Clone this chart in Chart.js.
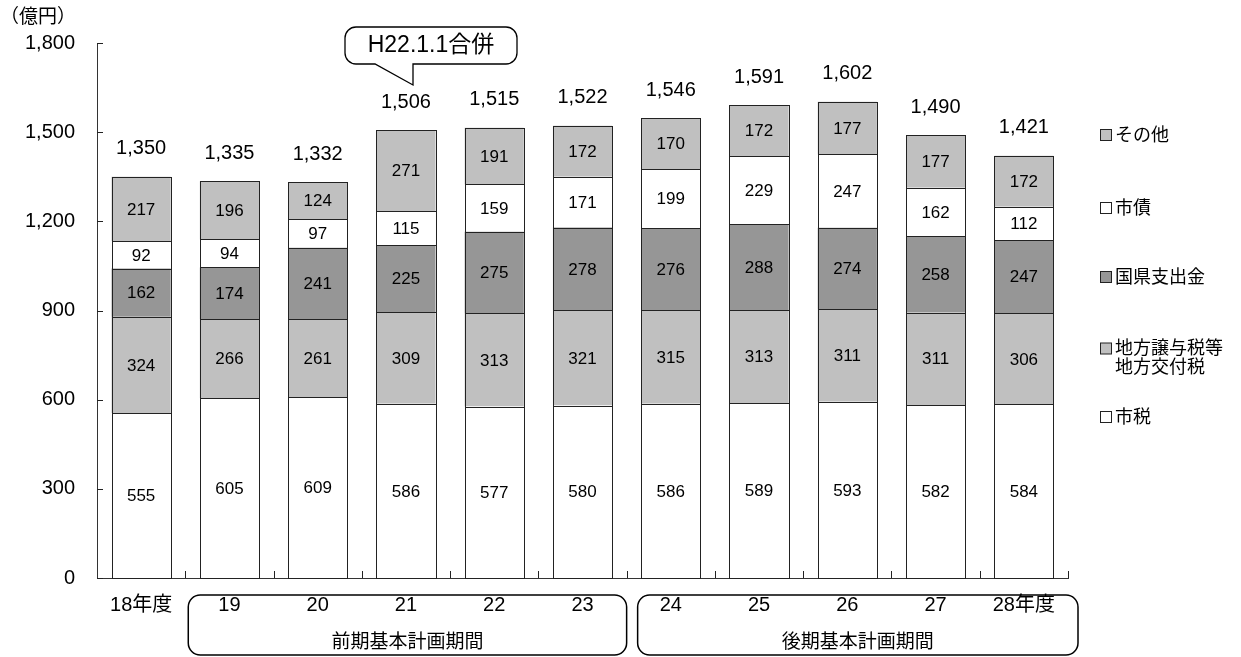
<!DOCTYPE html>
<html><head><meta charset="utf-8">
<script src="https://cdn.jsdelivr.net/npm/chart.js@4"></script>
<style>html,body{margin:0;padding:0;background:#fff}#wrap{width:1241px;height:657px;position:relative}</style>
</head><body><div id="wrap"><canvas id="c" width="1241" height="657"></canvas></div>
<script>
const categories=['18年度','19','20','21','22','23','24','25','26','27','28年度'];
const shizei=[555,605,609,586,577,580,586,589,593,582,584];
const chihouJouyo=[324,266,261,309,313,321,315,313,311,311,306];
const kokken=[162,174,241,225,275,278,276,288,274,258,247];
const shisai=[92,94,97,115,159,171,199,229,247,162,112];
const sonota=[217,196,124,271,191,172,170,172,177,177,172];
const totals=[1350,1335,1332,1506,1515,1522,1546,1591,1602,1490,1421];
const yTicks=[0,300,600,900,1200,1500,1800];
const periods=['前期基本計画期間','後期基本計画期間'];
const unitLabel='（億円）';
const calloutText='H22.1.1合併';
const seriesNames=['市税','地方譲与税等\n地方交付税','国県支出金','市債','その他'];

const FONT='"Liberation Sans","Noto Sans CJK JP",sans-serif';
const LIGHT='#c0c0c0', DARK='#969696', WHITE='#ffffff';
const colors=[WHITE,LIGHT,DARK,WHITE,LIGHT];
const seriesData=[shizei,chihouJouyo,kokken,shisai,sonota];

const datasets=seriesData.map((d,i)=>({
  label:seriesNames[i], data:d, backgroundColor:colors[i],
  borderWidth:0, barPercentage:0.67, categoryPercentage:1.0, stack:'s'
}));

const fmt=v=>v.toLocaleString('en-US');

const extras={
  id:'extras',
  afterDatasetsDraw(chart){
    const ctx=chart.ctx;
    ctx.save();ctx.strokeStyle='#222';ctx.lineWidth=1;
    chart.data.datasets.forEach((ds,di)=>{
      chart.getDatasetMeta(di).data.forEach(el=>{
        const x0=Math.round(el.x-el.width/2)+0.5, x1=Math.round(el.x+el.width/2)+0.5;
        const y0=Math.round(el.y)+0.5, y1=Math.round(el.base)+0.5;
        ctx.strokeRect(x0,y0,x1-x0,y1-y0);
      });
    });
    ctx.restore();
  },
  afterDraw(chart){
    const ctx=chart.ctx, ca=chart.chartArea, xs=chart.scales.x, ys=chart.scales.y;
    ctx.save();
    ctx.strokeStyle='#222'; ctx.lineWidth=1;
    yTicks.forEach(v=>{const y=Math.round(ys.getPixelForValue(v))+0.5;
      ctx.beginPath();ctx.moveTo(ca.left,y);ctx.lineTo(ca.left+6,y);ctx.stroke();});
    const n=categories.length, step=(ca.right-ca.left)/n;
    for(let i=1;i<=n;i++){const x=Math.round(ca.left+i*step)+0.5;
      ctx.beginPath();ctx.moveTo(x,ca.bottom-7);ctx.lineTo(x,ca.bottom);ctx.stroke();}
    ctx.fillStyle='#000'; ctx.textAlign='center'; ctx.textBaseline='middle';
    ctx.font='17px '+FONT;
    chart.data.datasets.forEach((ds,di)=>{
      const meta=chart.getDatasetMeta(di);
      meta.data.forEach((el,i)=>{ctx.fillText(String(ds.data[i]),el.x,(el.y+el.base)/2+1);});
    });
    ctx.font='20px '+FONT;
    const top=chart.getDatasetMeta(chart.data.datasets.length-1);
    top.data.forEach((el,i)=>{ctx.fillText(fmt(totals[i]),el.x,el.y-28);});
    ctx.textAlign='left'; ctx.font='19px '+FONT;
    ctx.fillText(unitLabel,0,18);
    const bx=i=>ca.left+i*step;
    const boxes=[[bx(1)+3,bx(6)],[bx(6)+11,bx(11)+10]];
    ctx.lineWidth=1.5;ctx.strokeStyle='#000';
    boxes.forEach((b,k)=>{
      ctx.beginPath();ctx.roundRect(b[0],595,b[1]-b[0],60,12);ctx.stroke();
      ctx.textAlign='center';ctx.font='19px '+FONT;
      ctx.fillText(periods[k],(b[0]+b[1])/2,643);
    });
    const L=345,R=517,T=27,B=64,r=11,tipX=413,tipY=85,baseL=375;
    ctx.lineWidth=1.3;
    ctx.beginPath();
    ctx.moveTo(L+r,T);ctx.lineTo(R-r,T);ctx.arcTo(R,T,R,T+r,r);
    ctx.lineTo(R,B-r);ctx.arcTo(R,B,R-r,B,r);
    ctx.lineTo(tipX,B);ctx.lineTo(tipX,tipY);ctx.lineTo(baseL,B);
    ctx.lineTo(L+r,B);ctx.arcTo(L,B,L,B-r,r);ctx.lineTo(L,T+r);ctx.arcTo(L,T,L+r,T,r);
    ctx.closePath();ctx.fillStyle='#fff';ctx.fill();ctx.stroke();
    ctx.fillStyle='#000';ctx.font='23px '+FONT;ctx.textAlign='center';
    ctx.fillText(calloutText,(L+R)/2,46);
    const legendY=[417,358,277,208,135];
    ctx.textAlign='left';ctx.font='18px '+FONT;
    for(let i=0;i<5;i++){
      const lines=seriesNames[i].split('\n');
      const y0=legendY[i]-(lines.length-1)*9.5;
      ctx.fillStyle=colors[i];ctx.fillRect(1100.5,y0-5.5,11,11);
      ctx.strokeStyle='#222';ctx.lineWidth=1;ctx.strokeRect(1100.5,y0-5.5,11,11);
      ctx.fillStyle='#000';
      lines.forEach((t,j)=>ctx.fillText(t,1115,y0+j*19+1));
    }
    ctx.restore();
  }
};

new Chart(document.getElementById('c'),{
  type:'bar',
  data:{labels:categories,datasets},
  options:{
    responsive:false,animation:false,
    layout:{padding:{left:0,top:43,right:173,bottom:0}},
    plugins:{legend:{display:false},tooltip:{enabled:false}},
    scales:{
      x:{stacked:true,grid:{display:false,drawTicks:false},
         border:{display:true,color:'#333',width:1},
         ticks:{color:'#000',font:{size:20,family:FONT},padding:15,maxRotation:0},
         afterFit(s){s.height=79;}},
      y:{stacked:true,min:0,max:1800,grid:{display:false,drawTicks:false},
         border:{display:true,color:'#333',width:1},
         afterBuildTicks(s){s.ticks=yTicks.map(v=>({value:v}));},
         ticks:{color:'#000',font:{size:20,family:FONT},padding:22,callback:v=>fmt(v)},
         afterFit(s){s.width=97;}}
    }
  },
  plugins:[extras]
});
</script></body></html>
